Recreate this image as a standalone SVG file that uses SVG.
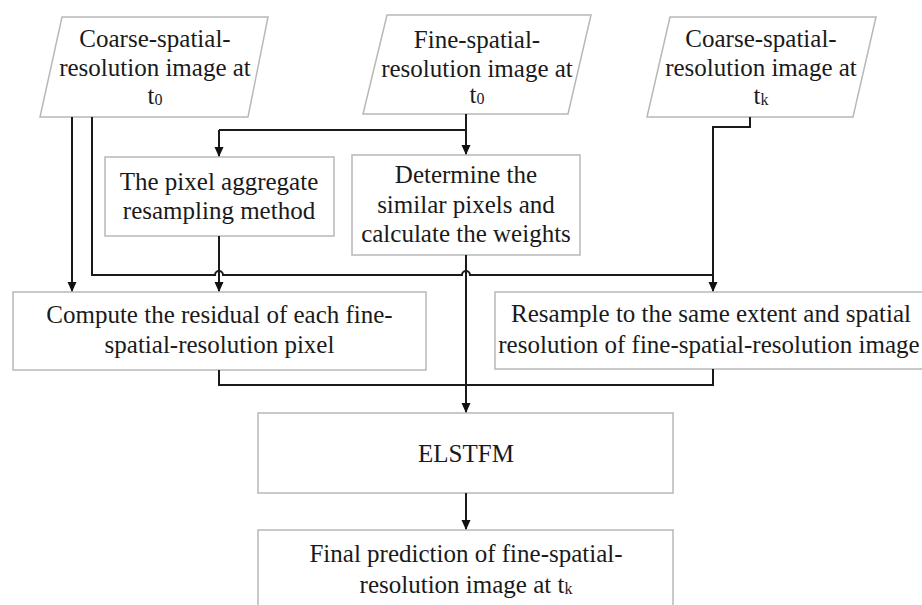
<svg xmlns="http://www.w3.org/2000/svg" width="922" height="605" viewBox="0 0 922 605">
<defs>
<marker id="arr" markerWidth="10" markerHeight="10" refX="9" refY="5" orient="auto" markerUnits="userSpaceOnUse">
<path d="M0,0.5 L10,5 L0,9.5 Z" fill="#111"/>
</marker>
<style>
.box{fill:#fff;stroke:#b8b8b8;stroke-width:1.5}
.t{font-family:"Liberation Serif","Times New Roman",serif;font-size:25px;fill:#1a1a1a;text-anchor:middle}
.c{fill:none;stroke:#1a1a1a;stroke-width:2}
.a{fill:none;stroke:#1a1a1a;stroke-width:2;marker-end:url(#arr)}
</style>
</defs>
<rect width="922" height="605" fill="#fff"/>

<g id="coarse_t0">
<polygon class="box" points="62,17 268,17 248,117 40,117"/>
<text class="t" x="155" y="47">Coarse-spatial-</text>
<text class="t" x="155" y="76">resolution image at</text>
<text class="t" x="155" y="104">t<tspan font-size="16" dy="1">0</tspan></text>
</g>

<g id="fine_t0">
<polygon class="box" points="387,15 591,15 568,114 363,114"/>
<text class="t" x="477" y="48">Fine-spatial-</text>
<text class="t" x="477" y="77">resolution image at</text>
<text class="t" x="477" y="103">t<tspan font-size="16" dy="1">0</tspan></text>
</g>

<g id="coarse_tk">
<polygon class="box" points="670,17 876,17 853,117 647,117"/>
<text class="t" x="761" y="47">Coarse-spatial-</text>
<text class="t" x="761" y="76">resolution image at</text>
<text class="t" x="761" y="104">t<tspan font-size="16" dy="1">k</tspan></text>
</g>

<g id="pixel_aggregate">
<rect class="box" x="105" y="157" width="229" height="79"/>
<text class="t" x="219" y="190">The pixel aggregate</text>
<text class="t" x="219" y="219">resampling method</text>
</g>

<g id="determine">
<rect class="box" x="352" y="155" width="228" height="100"/>
<text class="t" x="466" y="183">Determine the</text>
<text class="t" x="466" y="213">similar pixels and</text>
<text class="t" x="466" y="242">calculate the weights</text>
</g>

<g id="compute_residual">
<rect class="box" x="13" y="292" width="413" height="78"/>
<text class="t" x="219.5" y="323">Compute the residual of each fine-</text>
<text class="t" x="219.5" y="353">spatial-resolution pixel</text>
</g>

<g id="resample">
<rect class="box" x="495" y="292" width="440" height="77"/>
<text class="t" x="711" y="322">Resample to the same extent and spatial</text>
<text class="t" x="709" y="353">resolution of fine-spatial-resolution image</text>
</g>

<g id="elstfm">
<rect class="box" x="258" y="413" width="415" height="80"/>
<text class="t" x="466" y="462">ELSTFM</text>
</g>

<g id="final">
<rect class="box" x="258" y="530" width="415" height="90"/>
<text class="t" x="466" y="562">Final prediction of fine-spatial-</text>
<text class="t" x="466" y="593">resolution image at t<tspan font-size="16" dy="1">k</tspan></text>
</g>

<g id="connectors">
<path class="a" d="M72,117 V291"/>
<path class="c" d="M92,117 V275 H215 A4,4 0 0 1 223,275 H462 A4,4 0 0 1 470,275 H713"/>
<path class="c" d="M750,117 V127 H713 V275"/>
<path class="a" d="M713,275 V291"/>
<path class="c" d="M466,114 V130 M219,130 H466"/>
<path class="a" d="M219,130 V156"/>
<path class="a" d="M466,130 V154"/>
<path class="a" d="M219,236 V291"/>
<path class="a" d="M466,255 V412"/>
<path class="c" d="M219,370 V385 H713 V369"/>
<path class="a" d="M466,493 V529"/>
</g>
</svg>
